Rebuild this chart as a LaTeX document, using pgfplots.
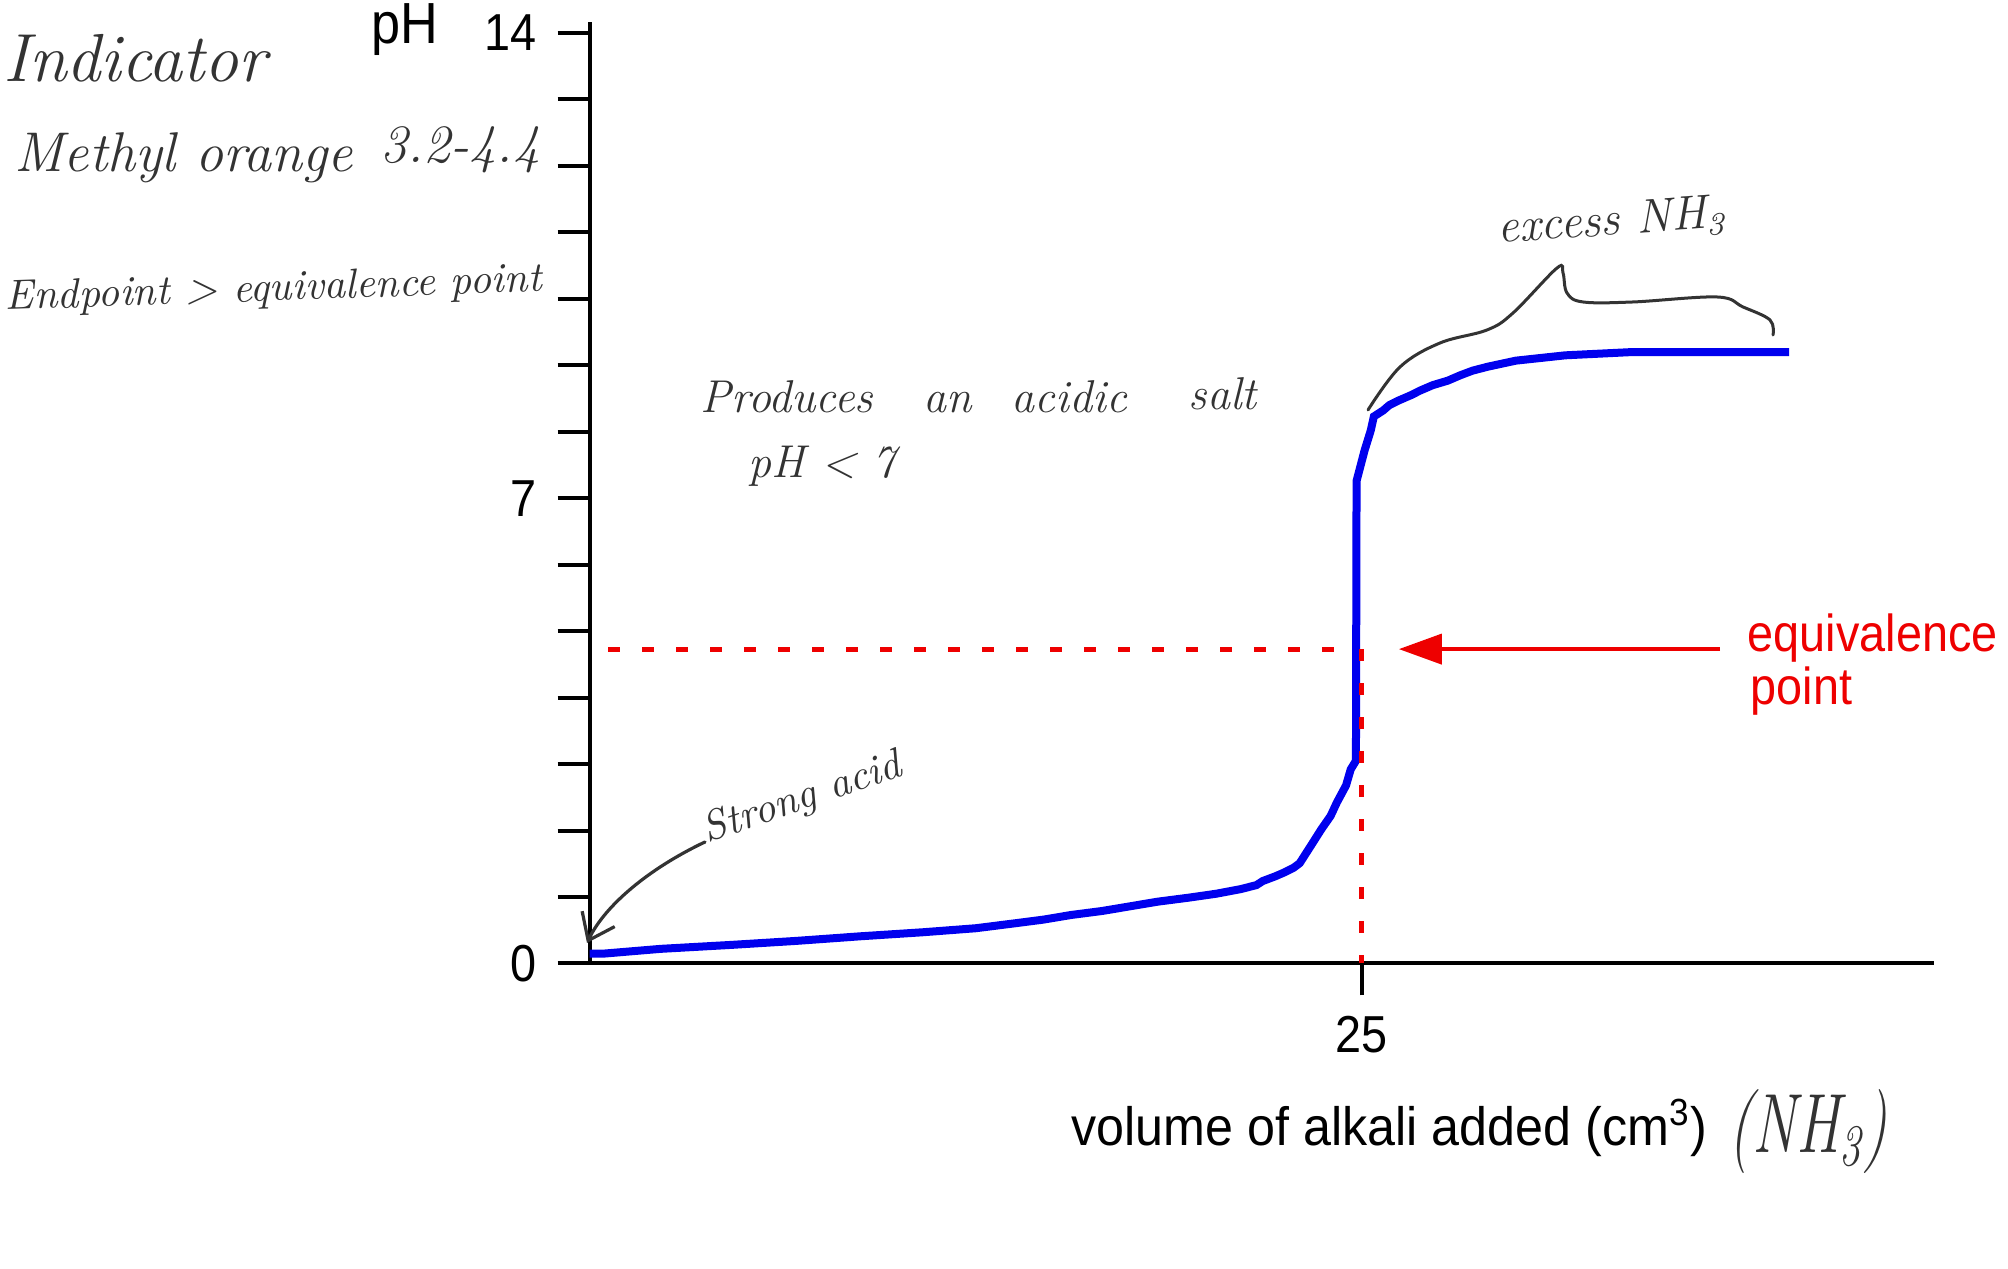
\documentclass[border=0pt]{standalone}
\usepackage{pgfplots}
\pgfplotsset{compat=1.18}
\usepackage{fontspec}
\usetikzlibrary{arrows.meta}
\newfontfamily\condsans[FakeStretch=0.9]{Liberation Sans}
\newfontfamily\labsans[FakeStretch=0.93]{Liberation Sans}
\definecolor{cblue}{RGB}{0,0,238}
\definecolor{cred}{RGB}{238,0,0}
\definecolor{hw}{RGB}{51,51,51}
\begin{document}
\begin{tikzpicture}
\begin{axis}[
  at={(0,0)}, anchor=south west,
  scale only axis, width=336.125pt, height=232.625pt,
  xmin=0, xmax=43.54, ymin=0, ymax=14,
  axis lines=left,
  axis line style={line width=1pt, -, black},
  x axis line style={shorten <=-7.4pt},
  y axis line style={shorten >=-2.75pt},
  xtick={25}, xticklabels={25},
  ytick={0,1,2,3,4,5,6,7,8,9,10,11,12,13,14},
  yticklabels={0,{},{},{},{},{},{},7,{},{},{},{},{},{},14},
  tick align=outside, major tick length=8pt,
  tick style={line width=1pt, black},
  /pgf/number format/assume math mode=true,
  ticklabel style={font=\condsans\fontsize{13}{15}\selectfont},
  yticklabel style={anchor=east, inner sep=0pt, xshift=-5pt},
  xticklabel style={anchor=north, inner sep=0pt, yshift=-5pt},
  clip=false,
]
\addplot[cblue, line width=2pt] coordinates {
(0,0.15) (0.5,0.15) (2.3,0.22) (4.6,0.28) (6.7,0.34) (8.8,0.41) (10.8,0.47)
(12.5,0.53) (13.7,0.60) (14.7,0.66) (15.6,0.73) (16.6,0.79) (17.5,0.86)
(18.4,0.93) (19.4,0.99) (20.3,1.05) (21.1,1.12) (21.6,1.18) (21.8,1.24)
(22.2,1.31) (22.5,1.37) (22.8,1.44) (23.0,1.51) (23.4,1.80) (23.7,2.02)
(24.0,2.22) (24.2,2.42) (24.5,2.68) (24.65,2.92) (24.82,3.05) (24.84,7.26)
(25.1,7.72) (25.3,8.02) (25.4,8.23) (25.7,8.32) (25.9,8.40) (26.2,8.47)
(26.6,8.55) (26.9,8.62) (27.3,8.70) (27.8,8.77) (28.2,8.85) (28.6,8.92)
(29.1,8.98) (30.0,9.07) (31.6,9.15) (33.8,9.20) (38.85,9.20)
};
\draw[cred, line width=1.2pt, dash pattern=on 3pt off 5.5pt] (axis cs:0.6,4.73) -- (axis cs:24.8,4.73);
\draw[cred, line width=1.2pt, dash pattern=on 3pt off 5.5pt] (axis cs:25,4.73) -- (axis cs:25,0);
\draw[cred, line width=1pt, -{Triangle[length=10.75pt,width=7.5pt]}] (axis cs:36.61,4.73) -- (axis cs:26.21,4.73);
\end{axis}
\begin{scope}[shift={(-147.375pt,240.875pt)}, x=0.25pt, y=-0.25pt]
% axis texts
\node[anchor=base west, inner sep=0pt, font=\condsans\fontsize{14.5}{17}\selectfont] at (371,44) {pH};
\node[anchor=base west, inner sep=0pt, font=\labsans\fontsize{13.5}{16}\selectfont] at (1071,1146) {volume of alkali added (cm\textsuperscript{3})};
\node[anchor=base west, inner sep=0pt, text=cred, font=\condsans\fontsize{13}{15}\selectfont] at (1747,652) {equivalence};
\node[anchor=base west, inner sep=0pt, text=cred, font=\condsans\fontsize{13}{15}\selectfont] at (1750,705) {point};
% handwritten notes
\begin{scope}[every node/.style={inner sep=0pt, text=hw}]
\node[anchor=base west, font=\fontsize{17}{20}\selectfont\itshape] at (3,82) {Indicator};
\node[anchor=base west, font=\fontsize{14}{17}\selectfont\itshape] at (14,172) {Methyl orange};
\node[anchor=base west, font=\fontsize{13.5}{16}\selectfont\itshape] at (380,163) {3.2-4.4};
\node[anchor=base west, rotate=2, font=\fontsize{10.5}{12}\selectfont\itshape] at (5,310) {Endpoint > equivalence point};
\node[anchor=base west, font=\fontsize{11.5}{13}\selectfont\itshape] at (700,413) {Produces};
\node[anchor=base west, font=\fontsize{11.5}{13}\selectfont\itshape] at (923,413) {an};
\node[anchor=base west, font=\fontsize{11.5}{13}\selectfont\itshape] at (1011,413) {acidic};
\node[anchor=base west, font=\fontsize{11.5}{13}\selectfont\itshape] at (1188,410) {salt};
\node[anchor=base west, font=\fontsize{11.5}{13}\selectfont\itshape] at (748,478) {pH < 7};
\node[anchor=base west, rotate=4, font=\fontsize{12}{14}\selectfont\itshape] at (1498,243) {excess NH\textsubscript{3}};
\node[anchor=base west, rotate=19, font=\fontsize{10.5}{12}\selectfont\itshape] at (707,843) {Strong acid};
\node[anchor=center, font=\fontsize{15}{18}\selectfont\itshape] at (1808,1132) {\scalebox{1}[1.4]{(NH\textsubscript{3})}};
\end{scope}
\draw[hw, line width=0.75pt, line cap=round] plot[smooth, tension=0.6] coordinates {
(1368,410) (1400,367) (1440,343) (1487,330) (1513,313) (1557,268) (1563,273)
(1567,293) (1583,302) (1633,302) (1717,297) (1743,307) (1770,320) (1773,335)};
\draw[hw, line width=0.8pt, line cap=round, -{Straight Barb[length=6pt,width=9pt]}] (705,842) .. controls (650,868) and (605,905) .. (587,943);
\end{scope}
\pgfresetboundingbox
\useasboundingbox (-147.375pt,-76.375pt) rectangle (354.625pt,240.875pt);
\end{tikzpicture}
\end{document}
